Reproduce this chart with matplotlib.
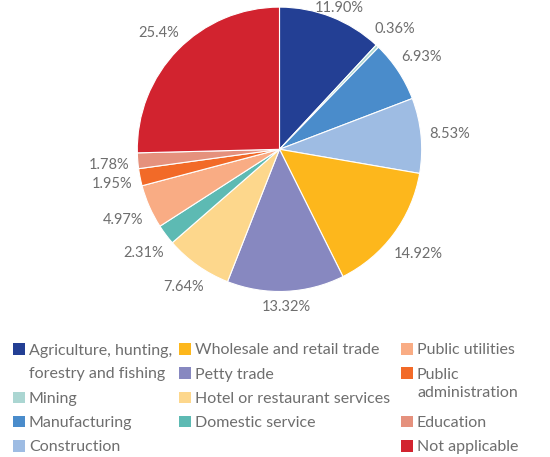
import numpy as np
import matplotlib
matplotlib.use("Agg")
import matplotlib.pyplot as plt
from matplotlib.patches import Rectangle

# Share of employment by sector (%)
categories = [
    "Agriculture, hunting,\nforestry and fishing",
    "Mining",
    "Manufacturing",
    "Construction",
    "Wholesale and retail trade",
    "Petty trade",
    "Hotel or restaurant services",
    "Domestic service",
    "Public utilities",
    "Public\nadministration",
    "Education",
    "Not applicable",
]
values = [11.90, 0.36, 6.93, 8.53, 14.92, 13.32, 7.64, 2.31, 4.97, 1.95, 1.78, 25.4]
value_labels = ["11.90%", "0.36%", "6.93%", "8.53%", "14.92%", "13.32%",
                "7.64%", "2.31%", "4.97%", "1.95%", "1.78%", "25.4%"]
colors = ["#233f94", "#abd6d2", "#4a8ccb", "#9ebce3", "#fdb71c", "#8788c0",
          "#fdd78c", "#5dbab3", "#f9ac84", "#f26a28", "#e5917d", "#d2232f"]

# legend columns (indices into categories)
legend_columns = [[0, 1, 2, 3], [4, 5, 6, 7], [8, 9, 10, 11]]

TEXT = "#6e6e6e"
FONT = "Lato"

W, H = 550, 457
fig = plt.figure(figsize=(W / 100, H / 100), dpi=100)

# pie axes: square box in pixels
cx, cy, rad = 279.5, 149.3, 142.2
ax = fig.add_axes([(cx - rad) / W, (H - cy - rad) / H, 2 * rad / W, 2 * rad / H])
wedges, _ = ax.pie(values, colors=colors, startangle=90, counterclock=False,
                   radius=1.0,
                   wedgeprops=dict(edgecolor="white", linewidth=0.8))
ax.set_xlim(-1, 1)
ax.set_ylim(-1, 1)
ax.set_aspect("auto")
ax.axis("off")

# percentage labels just outside each wedge
texts = []
mids = []
for w, lab in zip(wedges, value_labels):
    ang = np.deg2rad((w.theta1 + w.theta2) / 2)
    mids.append(ang)
    t = ax.text(np.cos(ang), np.sin(ang), lab, ha="center",
                va="center_baseline", fontsize=10.5, color=TEXT,
                family=FONT, clip_on=False)
    texts.append(t)

fig.canvas.draw()
renderer = fig.canvas.get_renderer()
px_unit = ax.transData.transform((1, 0))[0] - ax.transData.transform((0, 0))[0]
gap = 1.055
glyph_h = 11.0 / px_unit
top_limit = (cy - 6.5) / px_unit   # keep labels inside the figure top
for t, ang in zip(texts, mids):
    bb = t.get_window_extent(renderer)
    tw = bb.width / px_unit
    ux, uy = np.cos(ang), np.sin(ang)
    d = gap + 0.5 * tw * abs(ux) + 0.5 * glyph_h * abs(uy)
    x, y = d * ux, d * uy
    y = min(y, top_limit)
    t.set_position((x, y))

# legend drawn in pixel space
lax = fig.add_axes([0, 0, 1, 1])
lax.set_xlim(0, W)
lax.set_ylim(H, 0)
lax.axis("off")
lax.patch.set_alpha(0)

col_x = [13, 179, 401]
row0 = 350.5
pitch = 24.2
sq = 11.5
line_gap = {0: 23.3, 9: 18.5}
for x0, col in zip(col_x, legend_columns):
    y = row0
    for idx in col:
        lax.add_patch(Rectangle((x0, y - sq / 2 - 1.5), sq, sq,
                                facecolor=colors[idx], edgecolor="none"))
        lines = categories[idx].split("\n")
        for k, ln in enumerate(lines):
            lax.text(x0 + 16, y + k * line_gap.get(idx, pitch), ln,
                     ha="left", va="center", fontsize=11.5, color=TEXT,
                     family=FONT)
        y += pitch * len(lines)

fig.savefig("out.png", dpi=100)
